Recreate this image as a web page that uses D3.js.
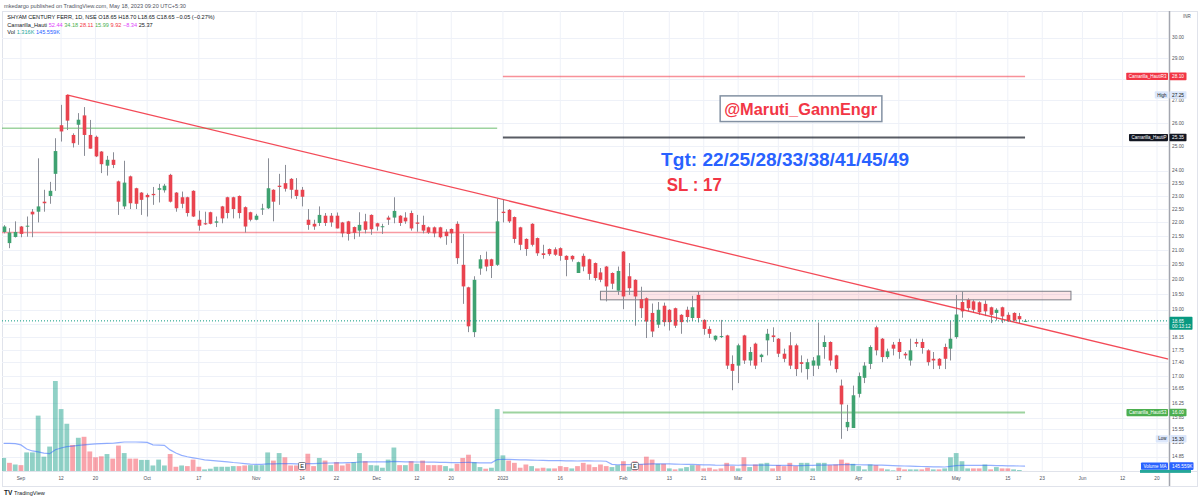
<!DOCTYPE html>
<html><head><meta charset="utf-8">
<script src="https://cdn.jsdelivr.net/npm/d3@7/dist/d3.min.js"></script>
<style>
html,body{margin:0;padding:0;background:#fff;}
svg{display:block;}
text{font-family:"Liberation Sans",Arial,sans-serif;}
</style></head><body>
<svg id="chart" width="1200" height="500"></svg>
<script>
// ---------------- DATA ----------------
const holidays = ["2022-08-31","2022-10-05","2022-10-26","2022-11-08","2023-01-26","2023-03-07","2023-03-30","2023-04-04","2023-04-07","2023-04-14","2023-05-01"];

const open = [21.65,21.25,21.47,21.85,21.85,22.4,22.4,22.78,23.0,23.87,25.9,27.25,25.48,25.92,26.33,25.48,25.4,24.78,24.2,24.44,
23.57,22.6,23.77,23.3,23.13,23.04,23.08,23.24,23.22,23.83,23.13,22.95,22.95,23.2,22.1,21.97,22.38,21.99,22.6,22.95,
22.95,23.0,22.57,22.38,22.1,22.5,22.53,23.24,23.4,23.5,23.67,23.24,23.24,22.1,21.95,21.98,22.25,22.25,22.25,22.0,
22.04,21.83,21.7,22.04,22.28,21.97,21.84,22.18,22.18,22.25,22.18,22.35,22.0,21.91,21.82,21.82,21.82,21.66,21.76,21.95,
20.49,19.73,18.3,20.36,20.68,20.68,20.49,22.4,22.47,22.2,21.82,21.4,21.95,21.43,20.89,21.04,21.03,21.07,20.8,20.8,
20.21,20.8,20.68,20.55,20.23,20.43,20.21,19.62,20.95,20.1,19.98,19.34,19.37,18.9,18.53,19.13,19.0,19.05,18.84,19.0,
18.74,19.48,18.68,18.4,18.07,18.17,18.2,17.35,17.3,18.2,17.45,17.95,17.55,18.05,18.2,18.1,17.65,17.9,17.9,17.4,
17.2,17.3,17.3,17.85,18.0,17.6,16.73,15.6,15.58,16.5,16.95,17.35,18.45,18.1,17.55,17.92,18.0,17.65,17.45,18.0,
18.0,17.75,17.5,17.5,17.85,17.8,18.15,19.25,19.32,19.27,19.24,19.19,19.08,18.9,19.08,18.84,18.9,18.8,18.65];

const high = [21.9,21.79,22.04,21.87,22.22,22.5,24.5,23.24,23.55,25.34,26.8,27.25,25.55,26.43,26.7,26.13,25.45,24.8,24.6,24.75,
23.6,24.4,23.8,23.32,23.15,23.1,23.35,23.47,23.47,23.87,23.15,23.17,22.97,23.22,22.44,22.4,22.4,22.22,22.62,22.97,
22.97,23.02,22.6,22.4,22.32,22.7,24.5,23.26,23.87,24.23,23.7,23.7,23.35,22.5,22.1,22.6,22.35,22.35,22.37,22.02,
22.06,21.85,22.38,22.32,22.3,21.99,21.95,22.25,22.95,22.27,22.38,22.44,22.28,22.25,21.85,21.85,21.84,21.75,21.78,22.04,
21.58,19.75,20.1,20.83,20.95,20.7,22.9,22.85,22.5,22.22,21.84,21.42,21.97,21.45,21.19,21.06,21.1,21.1,20.82,20.82,
20.6,20.88,20.7,20.57,20.38,20.45,20.23,20.43,20.97,20.55,20.0,19.75,19.4,19.2,19.25,19.23,19.02,19.07,18.86,19.1,
19.45,19.59,18.7,18.48,18.2,18.68,18.22,17.6,17.95,18.22,17.85,17.98,17.65,18.4,18.45,18.12,17.8,18.3,17.95,17.6,
17.5,17.55,18.6,18.2,18.02,17.62,16.9,16.2,16.73,17.1,17.4,17.9,18.5,18.12,17.8,18.0,18.1,17.7,18.1,18.1,
18.1,17.78,17.7,17.52,17.95,18.65,19.48,19.6,19.37,19.32,19.27,19.3,19.1,19.05,19.1,18.92,18.92,18.9,18.7];

const low = [21.6,21.07,21.45,21.46,21.48,21.46,22.0,22.4,22.7,23.2,25.2,25.69,24.95,25.06,24.6,24.9,24.55,23.9,23.8,24.1,
22.28,22.5,22.5,22.5,22.28,22.22,22.66,22.75,23.13,22.75,22.4,22.53,22.22,22.2,21.7,21.91,21.93,21.83,21.97,22.15,
22.15,22.15,21.63,22.04,22.08,22.28,22.5,22.04,22.66,23.17,22.9,22.88,22.6,21.73,21.73,21.87,21.87,21.84,21.78,21.46,
21.34,21.39,21.48,21.6,21.55,21.7,21.58,21.91,21.97,21.87,21.95,21.7,21.66,21.6,21.58,21.46,21.42,21.19,21.25,20.52,
19.19,18.3,18.15,20.15,20.27,20.04,20.45,22.0,21.98,21.25,21.0,20.8,21.13,20.8,20.7,20.8,20.8,20.63,20.1,20.6,
20.21,20.27,19.98,19.95,19.9,19.27,19.67,19.48,19.02,19.48,18.5,18.74,18.12,18.15,18.43,18.48,18.35,18.43,18.25,18.6,
18.65,18.6,18.22,18.12,18.02,18.12,17.2,16.6,16.8,17.35,17.3,17.2,17.4,17.6,18.0,17.55,17.4,17.2,17.0,17.1,
16.9,17.0,17.2,17.5,17.3,17.1,15.3,15.5,15.58,16.4,16.8,17.2,17.6,17.4,17.5,17.6,17.5,17.5,17.3,17.85,
17.65,17.3,17.2,17.2,17.2,17.45,18.1,18.75,18.95,18.9,18.84,18.8,18.58,18.66,18.58,18.62,18.64,18.58,18.65];

const close = [21.85,21.63,21.65,21.58,21.88,22.3,22.6,22.72,23.2,24.8,25.63,26.1,25.13,26.14,25.48,24.9,24.58,24.26,24.44,24.23,
22.78,23.52,22.72,22.7,22.85,22.95,23.03,23.3,23.4,22.78,22.53,22.7,22.35,22.22,21.88,21.93,21.95,22.04,22.15,22.35,
22.5,22.35,21.85,22.1,22.25,22.52,23.3,22.78,23.35,23.28,23.24,23.0,22.97,21.91,21.85,22.28,21.98,22.0,21.78,21.6,
21.58,21.62,21.91,21.73,21.75,21.85,21.86,22.1,22.43,21.98,22.04,21.78,21.95,21.7,21.63,21.6,21.46,21.5,21.6,20.72,
19.76,18.48,19.98,20.68,20.43,20.45,22.04,22.35,22.04,21.4,21.19,21.04,21.19,20.89,20.83,20.86,20.84,20.8,20.66,20.68,
20.58,20.43,20.18,20.04,19.98,19.76,19.85,20.28,19.43,19.7,19.43,19.05,18.63,18.32,19.0,18.61,18.61,18.5,18.61,18.77,
19.08,18.74,18.4,18.25,18.19,18.18,17.3,17.15,17.9,17.45,17.7,17.3,17.62,18.25,18.15,17.65,17.5,17.3,17.2,17.35,
17.4,17.45,17.6,18.0,17.45,17.2,16.21,15.74,16.46,17.0,17.3,17.85,17.75,17.55,17.72,17.8,17.7,17.6,17.75,17.95,
17.82,17.4,17.45,17.3,17.5,18.1,18.85,18.95,19.05,19.0,18.92,18.95,18.84,19.0,18.79,18.66,18.66,18.7,18.65];

// volume in thousands of shares
const volume = [387,242,193,174,551,551,1643,425,725,2670,1837,1402,773,986,1015,580,406,435,503,367,
754,532,367,367,329,329,164,338,164,503,126,164,145,338,126,48,68,126,126,126,
145,145,164,174,174,174,551,309,532,406,164,164,100,512,145,387,309,174,261,164,
222,261,532,290,174,164,97,338,696,174,174,290,213,309,174,174,174,145,77,213,
387,483,261,116,68,97,1837,464,309,242,97,193,145,77,97,77,77,145,116,77,
145,242,193,116,193,145,116,174,290,130,290,200,425,338,213,213,77,48,77,116,
174,174,77,97,48,77,242,145,77,406,116,193,222,242,77,174,145,242,145,242,
242,77,242,242,174,193,338,242,213,145,48,193,174,77,48,20,97,48,48,48,
48,97,48,48,77,406,532,290,77,77,77,193,48,116,77,77,48,29,1.316];

// Volume MA (20), thousands
const volMA = [821,821,812,774,653,595,566,531,513,629,682,725,740,760,774,789,806,815,821,824,
841,861,861,861,856,850,774,769,760,626,534,464,423,392,363,328,313,299,284,270,
252,238,220,203,197,197,212,212,220,220,218,212,212,220,220,226,232,238,241,241,
247,252,267,270,270,270,270,273,284,276,270,270,267,267,261,261,255,255,249,249,
252,255,249,244,241,241,339,348,342,339,331,328,325,319,313,310,307,305,302,299,
296,302,302,296,296,290,197,186,191,189,194,197,203,209,212,212,209,203,200,197,
194,189,183,183,174,171,177,177,171,180,177,177,174,174,165,165,165,165,162,162,
168,168,174,177,180,183,189,189,191,186,180,180,177,174,168,162,154,148,142,139,
133,131,125,122,119,139,162,168,171,168,168,171,165,162,160,154,151,148,145.559];

const xTickLabels = ["Sep","12","20","Oct","17","Nov","14","22","Dec","12","20","2023","16","Feb","13","21","Mar","13","21","Apr","17","May","15","23","Jun","12","20"];
const xTickDates = ["2022-09-01","2022-09-12","2022-09-20","2022-10-03","2022-10-17","2022-11-01","2022-11-14","2022-11-22","2022-12-01","2022-12-12","2022-12-20","2023-01-02","2023-01-16","2023-02-01","2023-02-13","2023-02-21","2023-03-01","2023-03-13","2023-03-21","2023-04-03","2023-04-17","2023-05-02","2023-05-15","2023-05-23","2023-06-01","2023-06-12","2023-06-20"];
const priceTicks = [30,29,28,27,26,25,24,23.5,23,22.5,22,21.5,21,20.5,20,19.5,19,18.55,18.15,17.75,17.4,17,16.65,16.25,15.85,15.55,15.2,14.85];

// Camarilla levels (2022 levels on the left, 2023 levels on the right)
const cam2022 = {r3: 25.77, s3: 21.63};
const cam2023 = {r3: 28.11, p: 25.37, s3: 15.99};
const camValues = ["52.44","34.18","28.11","15.99","9.92","-8.34","25.37"];
const camColors = ["#e040fb","#4caf50","#f23645","#4caf50","#f23645","#e040fb","#131722"];
const earningsDates = ["2022-11-14","2023-02-03"];
const zoneTop = 19.6, zoneBottom = 19.32;
const zoneFrom = "2023-01-25", zoneTo = "2023-05-30";
const trendFrom = {date:"2022-09-13", price:27.25}, trendTo = {date:"2023-05-18", price:18.53};

// ---------------- DATES ----------------
const fmtD = d3.timeFormat("%Y-%m-%d");
const dates = [];
for (let d = new Date(2022,7,26); d <= new Date(2023,6,10); d = d3.timeDay.offset(d,1)) {
  const wd = d.getDay(); if (wd===0 || wd===6) continue;
  const s = fmtD(d); if (holidays.includes(s)) continue;
  dates.push(s);
}
const kOf = s => dates.indexOf(s);
const N = close.length;

// ---------------- SCALES ----------------
const P = {l:2, r:1168.5, t:11, b:471};
const x = d3.scaleLinear().domain([-0.3, 203]).range([P.l, P.r]);
const y = d3.scaleLog().domain([14.52, 31.32]).range([470, 12]);
const yV = d3.scaleLinear().domain([0, 2700]).range([471, 380]);

const UP = "#3fa271", DN = "#e9434f", WICK = "#8a8d96";
const svg = d3.select("#chart");
svg.append("rect").attr("width",1200).attr("height",500).attr("fill","#fff");
svg.append("defs").append("clipPath").attr("id","plot").append("rect")
  .attr("x",P.l).attr("y",P.t).attr("width",P.r-P.l).attr("height",P.b-P.t);

// frame
svg.append("rect").attr("x",2.5).attr("y",11.5).attr("width",1195).attr("height",475)
  .attr("fill","none").attr("stroke","#e0e3eb").attr("stroke-width",1);

const g = svg.append("g").attr("clip-path","url(#plot)");

// grid
const tickKs = xTickDates.map(kOf);
g.selectAll(".vg").data(tickKs).join("line")
  .attr("x1",d=>x(d)).attr("x2",d=>x(d)).attr("y1",P.t).attr("y2",P.b)
  .attr("stroke","#eef1f8").attr("stroke-width",1);
g.selectAll(".hg").data(priceTicks).join("line")
  .attr("x1",P.l).attr("x2",P.r).attr("y1",d=>Math.round(y(d))+0.5).attr("y2",d=>Math.round(y(d))+0.5)
  .attr("stroke","#eef1f8").attr("stroke-width",1);

// volume
const idxs = d3.range(N);
g.selectAll(".vol").data(idxs).join("rect")
  .attr("x",k=>x(k)-2.4).attr("width",4.8)
  .attr("y",k=>yV(volume[k])).attr("height",k=>Math.max(0,yV(0)-yV(volume[k])))
  .attr("fill",k=> (k===0 || close[k]>=close[k-1]) ? "rgba(8,153,129,0.45)" : "rgba(242,54,69,0.45)");
g.append("path").datum(idxs)
  .attr("d",d3.line().x(k=>x(k)).y(k=>yV(volMA[k])))
  .attr("fill","none").attr("stroke","#2962ff").attr("stroke-opacity",0.5).attr("stroke-width",1.2);

// camarilla lines
const k2022end = kOf("2023-01-02")-1, k2023start = kOf("2023-01-02"), kLast = N-1;
function hline(p, k1, k2, color, w){
  g.append("line").attr("x1",x(k1)).attr("x2",x(k2)).attr("y1",y(p)).attr("y2",y(p))
   .attr("stroke",color).attr("stroke-width",w);
}
hline(cam2022.r3, -2, k2022end, "rgba(76,175,80,0.55)", 1.5);
hline(cam2022.s3, -2, k2022end, "rgba(242,54,69,0.5)", 1.5);
hline(cam2023.r3, k2023start, kLast, "rgba(242,54,69,0.55)", 1.5);
hline(cam2023.p, k2023start, kLast, "rgba(19,23,34,0.7)", 2);
hline(cam2023.s3, k2023start, kLast, "rgba(76,175,80,0.55)", 2);

// zone rectangle
g.append("rect").attr("x",x(kOf(zoneFrom))).attr("width",x(kOf(zoneTo))-x(kOf(zoneFrom)))
  .attr("y",y(zoneTop)).attr("height",y(zoneBottom)-y(zoneTop))
  .attr("fill","rgba(242,54,69,0.13)").attr("stroke","#7d7f88").attr("stroke-width",1);

// candles
const cg = g.append("g");
cg.selectAll(".wick").data(idxs).join("line")
  .attr("x1",k=>Math.round(x(k))+0.5).attr("x2",k=>Math.round(x(k))+0.5)
  .attr("y1",k=>y(high[k])).attr("y2",k=>y(low[k]))
  .attr("stroke",WICK).attr("stroke-width",1);
cg.selectAll(".body").data(idxs).join("rect")
  .attr("x",k=>Math.round(x(k))+0.5-1.8).attr("width",3.6)
  .attr("y",k=>y(Math.max(open[k],close[k])))
  .attr("height",k=>Math.max(1,y(Math.min(open[k],close[k]))-y(Math.max(open[k],close[k]))))
  .attr("fill",k=>close[k]>=open[k]?UP:DN);

// trend line (extended to the right edge)
{
  const x1=x(kOf(trendFrom.date)), y1=y(trendFrom.price), x2=x(kOf(trendTo.date)), y2=y(trendTo.price);
  const s=(y2-y1)/(x2-x1);
  g.append("line").attr("x1",x1).attr("y1",y1).attr("x2",P.r).attr("y2",y1+s*(P.r-x1))
   .attr("stroke","#f23645").attr("stroke-width",1.3).attr("stroke-opacity",0.9);
}

// last price line
g.append("line").attr("x1",P.l).attr("x2",P.r).attr("y1",y(close[kLast])).attr("y2",y(close[kLast]))
  .attr("stroke","#089981").attr("stroke-width",1).attr("stroke-dasharray","1,2");

// annotations (anchored in bar / price units)
{
  const kA = kOf("2023-01-02");
  const ax = x(kA+38.56), ay = y(26.34);
  svg.append("rect").attr("x",ax-4).attr("y",ay-19.3).attr("width",161.7).attr("height",25.7)
    .attr("fill","#fff").attr("stroke","#8391a3").attr("stroke-width",1.5);
  svg.append("text").attr("x",ax).attr("y",ay).text("@Maruti_GannEngr")
    .attr("fill","#f23645").attr("font-size",16).attr("font-weight","bold")
    .attr("textLength",153).attr("lengthAdjust","spacingAndGlyphs");
  svg.append("text").attr("x",x(kA+27.57)).attr("y",y(24.19)).text("Tgt: 22/25/28/33/38/41/45/49")
    .attr("fill","#2962ff").attr("font-size",19).attr("font-weight","bold")
    .attr("textLength",248).attr("lengthAdjust","spacingAndGlyphs");
  svg.append("text").attr("x",x(kA+28.57)).attr("y",y(23.21)).text("SL : 17")
    .attr("fill","#f23645").attr("font-size",19).attr("font-weight","bold")
    .attr("textLength",55).attr("lengthAdjust","spacingAndGlyphs");
}

// earnings markers
earningsDates.forEach(s=>{
  const cx = x(kOf(s));
  svg.append("rect").attr("x",cx-3.5).attr("y",462.5).attr("width",7).attr("height",7).attr("rx",1)
    .attr("fill","#fff").attr("stroke","#5d606b").attr("stroke-width",0.8);
  svg.append("text").attr("x",cx).attr("y",468.3).attr("text-anchor","middle").attr("font-size",5.5)
    .attr("fill","#131722").text("E");
});

// axes
svg.append("line").attr("x1",1169.5).attr("x2",1169.5).attr("y1",11).attr("y2",486)
  .attr("stroke","#a3a6af").attr("stroke-width",1.5);
svg.append("line").attr("x1",2).attr("x2",1197).attr("y1",471.5).attr("y2",471.5)
  .attr("stroke","#e0e3eb").attr("stroke-width",1);

// boxes on the price axis (tick labels hidden where a box sits)
const lastY = y(close[kLast]);
const boxSpans = [y(cam2023.r3), y(d3.max(high)), y(cam2023.p), y(cam2023.s3), y(d3.min(low))]
  .map(v=>[v-3.9, v+3.9]).concat([[lastY-4, lastY+9]]);
const visibleTicks = priceTicks.filter(t => !boxSpans.some(([a,b]) => y(t) > a && y(t) < b));
svg.selectAll(".yl").data(visibleTicks).join("text")
  .attr("x",1172).attr("y",d=>y(d)+1.7).attr("font-size",4.8).attr("fill","#50535e")
  .text(d=>d.toFixed(2));
svg.append("text").attr("x",1183).attr("y",18).attr("font-size",4.5).attr("fill","#50535e").text("INR");
svg.selectAll(".xl").data(xTickLabels).join("text")
  .attr("x",(d,i)=>x(tickKs[i])).attr("y",479.5).attr("text-anchor","middle")
  .attr("font-size",4.8).attr("fill","#50535e").text(d=>d);

// right axis labels
function axisLabel(yy, txt, bg, fg, w){
  svg.append("rect").attr("x",1169.5).attr("y",yy-3.8).attr("width",w||17).attr("height",7.6).attr("rx",0.8).attr("fill",bg);
  svg.append("text").attr("x",1172).attr("y",yy+1.7).attr("font-size",4.8).attr("fill",fg).text(txt);
}
function nameLabel(yy, txt, bg, fg){
  const t = svg.append("text").attr("x",1166.5).attr("y",yy+1.6).attr("text-anchor","end")
    .attr("font-size",4.5).attr("fill",fg).text(txt);
  const w = t.node().getComputedTextLength();
  svg.insert("rect", () => t.node()).attr("x",1166.5-w-2.5).attr("y",yy-3.6).attr("width",w+4).attr("height",7.2)
    .attr("rx",0.8).attr("fill",bg);
}
const r05 = v => (Math.round(v*20)/20).toFixed(2);
nameLabel(y(cam2023.r3), "Camarilla_HautiR3", "#f23645", "#fff");
axisLabel(y(cam2023.r3), r05(cam2023.r3), "#f23645", "#fff");
nameLabel(y(d3.max(high)), "High", "#dce7fb", "#131722");
axisLabel(y(d3.max(high)), d3.max(high).toFixed(2), "#dce7fb", "#131722");
nameLabel(y(cam2023.p), "Camarilla_HautiP", "#131722", "#fff");
axisLabel(y(cam2023.p), r05(cam2023.p), "#131722", "#fff");
nameLabel(y(cam2023.s3), "Camarilla_HautiS3", "#4caf50", "#fff");
axisLabel(y(cam2023.s3), r05(cam2023.s3), "#4caf50", "#fff");
nameLabel(y(d3.min(low)), "Low", "#dce7fb", "#131722");
axisLabel(y(d3.min(low)), d3.min(low).toFixed(2), "#dce7fb", "#131722");
{
  svg.append("rect").attr("x",1169.5).attr("y",lastY-4).attr("width",23).attr("height",13).attr("rx",0.8).attr("fill","#089981");
  svg.append("text").attr("x",1172).attr("y",lastY+1.7).attr("font-size",4.8).attr("fill","#fff").text(close[kLast].toFixed(2));
  svg.append("text").attr("x",1172).attr("y",lastY+7.3).attr("font-size",4.8).attr("fill","#fff").text("00:13:12");
}
{
  const ym = yV(volMA[kLast]);
  nameLabel(ym, "Volume MA", "#2962ff", "#fff");
  axisLabel(ym, volMA[kLast].toFixed(3)+"K", "#2962ff", "#fff", 24);
  // volume label peeking out under the MA label
  svg.append("rect").attr("x",1140).attr("y",ym+3.8).attr("width",51).attr("height",3).attr("fill","#26a69a");
}

// header
const hdr = svg.append("g").attr("font-size",5.6);
hdr.append("text").attr("x",4).attr("y",8).attr("fill","#50535e")
  .text("mkedargo published on TradingView.com, May 18, 2023 09:20 UTC+5:30");
hdr.append("text").attr("x",7.3).attr("y",18.7).attr("fill","#131722")
  .text("SHYAM CENTURY FERR, 1D, NSE  O"+open[kLast].toFixed(2)+" H"+high[kLast].toFixed(2)+" L"+low[kLast].toFixed(2)+" C"+close[kLast].toFixed(2)+"  −0.05 (−0.27%)");
const l2 = hdr.append("text").attr("x",7.3).attr("y",26.7).attr("fill","#131722");
l2.append("tspan").text("Camarilla_Hauti ");
camValues.forEach((v,i)=>l2.append("tspan").attr("fill",camColors[i]).text(" "+v.replace("-","−")+" "));
const l3 = hdr.append("text").attr("x",7.3).attr("y",34).attr("fill","#131722");
l3.append("tspan").text("Vol  ");
l3.append("tspan").attr("fill","#26a69a").text(volume[kLast].toFixed(3)+"K  ");
l3.append("tspan").attr("fill","#2962ff").text(volMA[kLast].toFixed(3)+"K");

// logo
svg.append("text").attr("x",4).attr("y",495).attr("font-size",6.5).attr("font-weight","bold").attr("fill","#131722").text("TV");
svg.append("text").attr("x",14).attr("y",495).attr("font-size",5.6).attr("fill","#131722").text("TradingView");
</script>
</body></html>
